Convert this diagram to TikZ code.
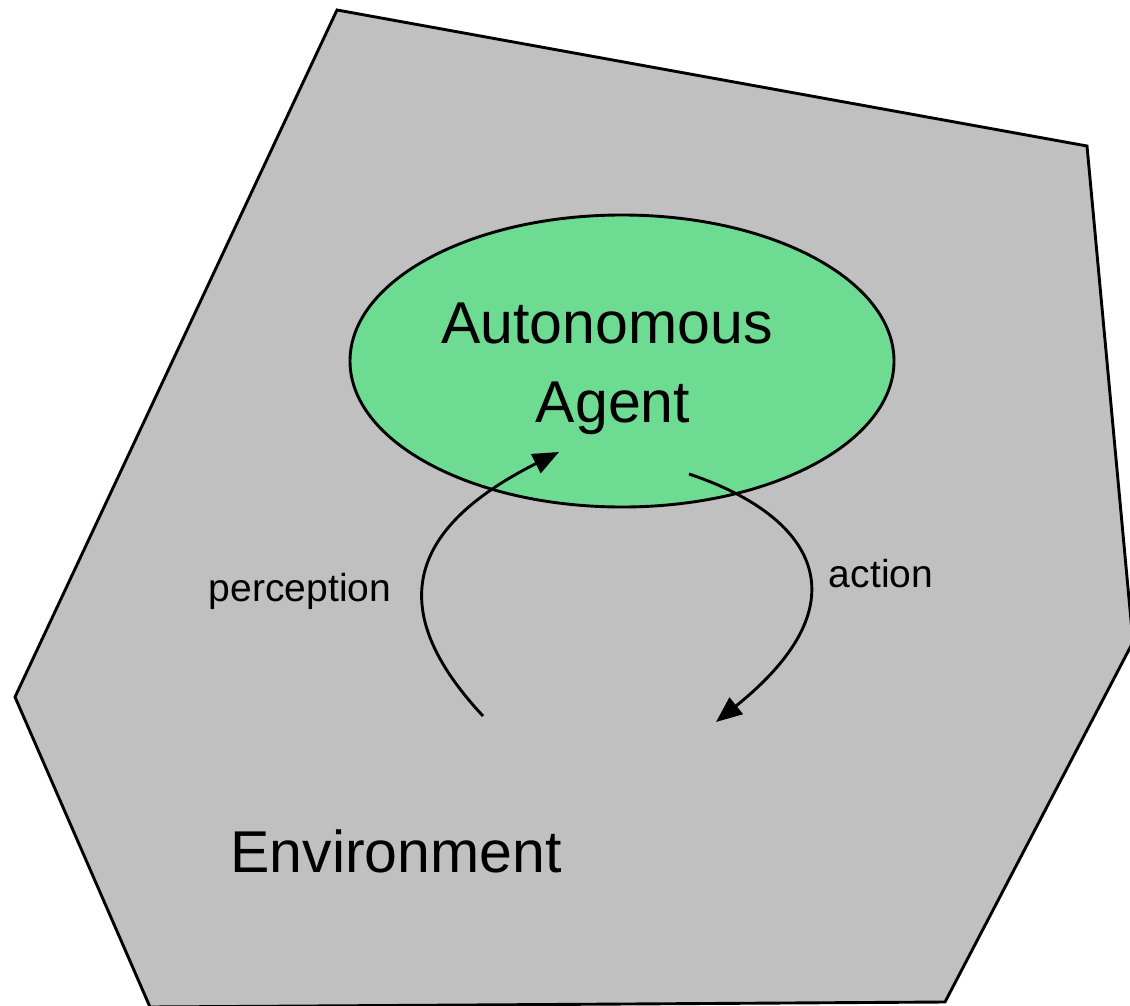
\documentclass[tikz,border=0pt]{standalone}
\usepackage{fontspec}
\setmainfont{Liberation Sans}
\usetikzlibrary{arrows.meta,shapes.geometric}
\definecolor{envgray}{RGB}{192,192,192}
\definecolor{agentgreen}{RGB}{110,219,146}
\begin{document}
\begin{tikzpicture}[x=1pt,y=-1pt,
  edge/.style={line width=2.9pt},
  flow/.style={line width=2.9pt,-{Triangle[length=26pt,width=21pt]}},
  big/.style={font=\fontsize{59}{66}\selectfont,inner sep=0pt,anchor=base},
  small/.style={font=\fontsize{39}{44}\selectfont,inner sep=0pt,anchor=base}]
\useasboundingbox (0,0) rectangle (1130,1006);
\clip (0,0) rectangle (1130,1006);
\fill[white] (0,0) rectangle (1130,1006);
\draw[edge,fill=envgray,line join=miter] (337,10) -- (1087,146) -- (1133,642) -- (945,1002) -- (150,1007) -- (15,697) -- cycle;
\node[draw,ellipse,line width=2.9pt,fill=agentgreen,minimum width=544pt,minimum height=292pt,inner sep=0pt] (agent) at (622,361) {};
\node[big] (t1) at (607,343) {Autonomous};
\node[big] (t2) at (613,422) {Agent};
\node[big] (env) at (396,872) {Environment};
\node[small] (perc) at (300,601) {perception};
\node[small] (act) at (881,587) {action};
\coordinate (pstart) at (483,716);
\coordinate (pend) at (559,452);
\coordinate (astart) at (689,474);
\coordinate (aend) at (716,722);
\draw[flow] (pstart) .. controls (386,612) and (404,530) .. (pend);
\draw[flow] (astart) .. controls (812,515) and (868,600) .. (aend);
\end{tikzpicture}
\end{document}
